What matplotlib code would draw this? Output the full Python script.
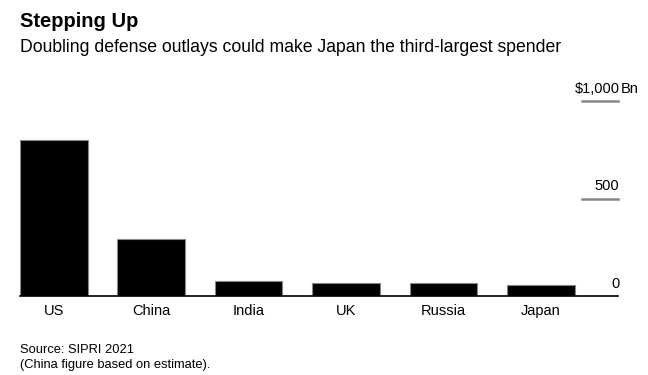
import matplotlib.pyplot as plt
import numpy as np

plt.rcParams['font.family'] = ['Liberation Sans', 'DejaVu Sans']

countries = ['US', 'China', 'India', 'UK', 'Russia', 'Japan']
spending = [801, 293, 76.6, 68.4, 65.9, 54.1]  # $Bn, SIPRI 2021
yticks = [0, 500, 1000]
ytick_labels = ['0', '500', '$1,000']

fig = plt.figure(figsize=(6.48, 3.75), dpi=100)
ax = fig.add_axes([20 / 648, 79 / 375, 598 / 648, 195 / 375])

x = np.arange(len(countries))
ax.bar(x, spending, width=0.693, color='black', edgecolor='#888888', linewidth=0.8)
ax.set_xlim(-0.347, 5.79)
ax.set_ylim(0, 1000)

for s in ax.spines.values():
    s.set_visible(False)
ax.set_yticks([])
ax.set_xticks(x)
ax.set_xticklabels(countries, fontsize=10.5)
ax.tick_params(axis='x', length=0, pad=6)

# baseline and right-side gridline stubs
ax.axhline(0, color='black', lw=1.2, zorder=3, clip_on=False)
for v, lab in zip(yticks, ytick_labels):
    if v > 0:
        ax.axhline(v, xmin=0.94, xmax=1.0, color='#888888', lw=1.8, clip_on=False)
    ax.annotate(lab, xy=(1.0, v), xycoords=('axes fraction', 'data'),
                xytext=(1, 6), textcoords='offset points',
                ha='right', va='baseline', fontsize=10.5)
ax.annotate('Bn', xy=(1.0, yticks[-1]), xycoords=('axes fraction', 'data'),
            xytext=(2, 6), textcoords='offset points',
            ha='left', va='baseline', fontsize=10.5)

fig.text(20 / 648, 1 - 27 / 375, 'Stepping Up', fontsize=14.5, fontweight='bold',
         va='baseline', ha='left')
fig.text(20 / 648, 1 - 52 / 375,
         'Doubling defense outlays could make Japan the third-largest spender',
         fontsize=12.7, va='baseline', ha='left')
fig.text(20 / 648, 1 - 353 / 375, 'Source: SIPRI 2021', fontsize=9.3, va='baseline', ha='left')
fig.text(20 / 648, 1 - 368 / 375, '(China figure based on estimate).', fontsize=9.3,
         va='baseline', ha='left')

fig.savefig('out.png', dpi=100)
